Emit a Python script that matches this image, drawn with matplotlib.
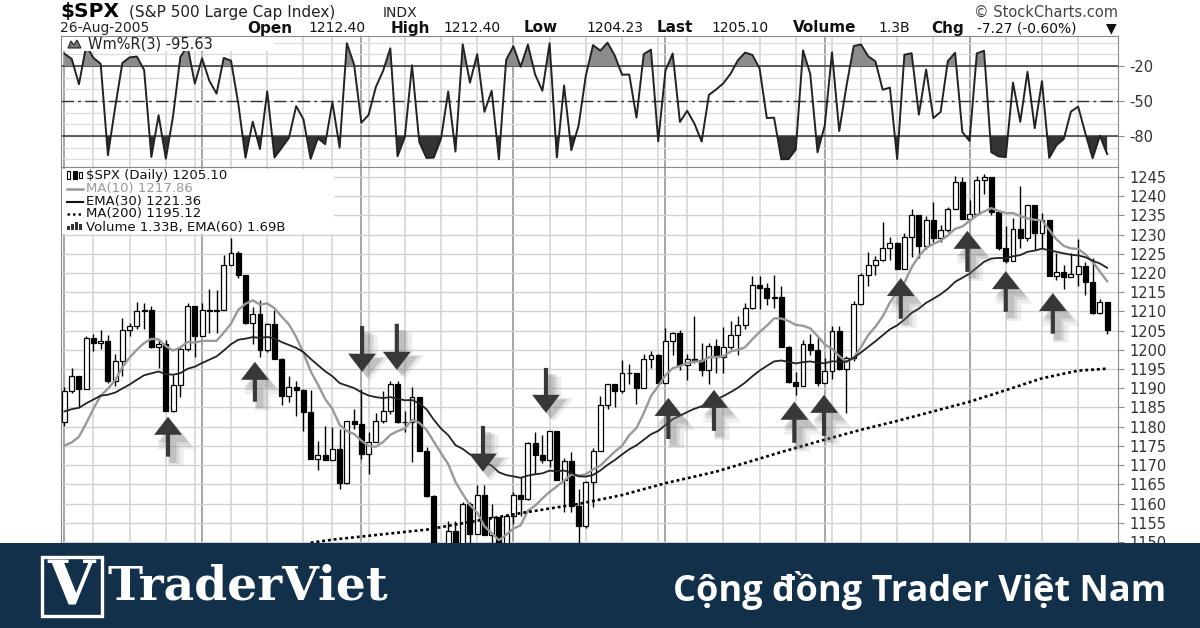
import matplotlib
matplotlib.use("Agg")
import matplotlib.pyplot as plt
from matplotlib.patches import Rectangle, Polygon
from matplotlib.lines import Line2D
from matplotlib.transforms import offset_copy
import numpy as np
import pandas as pd

# trading days on the chart, 2005
feb = [1, 2, 3, 4, 7, 8, 9, 10, 11, 14, 15, 16, 17, 18, 22, 23, 24, 25, 28]
mar = [1, 2, 3, 4, 7, 8, 9, 10, 11, 14, 15, 16, 17, 18, 21, 22, 23, 24, 28, 29, 30, 31]
apr = [1, 4, 5, 6, 7, 8, 11, 12, 13, 14, 15, 18, 19, 20, 21, 22, 25, 26, 27, 28, 29]
may = [2, 3, 4, 5, 6, 9, 10, 11, 12, 13, 16, 17, 18, 19, 20, 23, 24, 25, 26, 27, 31]
jun = [1, 2, 3, 6, 7, 8, 9, 10, 13, 14, 15, 16, 17, 20, 21, 22, 23, 24, 27, 28, 29, 30]
jul = [1, 5, 6, 7, 8, 11, 12, 13, 14, 15, 18, 19, 20, 21, 22, 25, 26, 27, 28, 29]
aug = [1, 2, 3, 4, 5, 8, 9, 10, 11, 12, 15, 16, 17, 18, 19, 22, 23, 24, 25, 26]

closes = [
    1189.41, 1193.19, 1189.89, 1203.03, 1201.72, 1202.30, 1191.99, 1197.01, 1205.30, 1206.14,
    1210.12, 1210.34, 1200.75, 1201.59, 1184.16, 1190.80, 1200.20, 1211.37, 1203.60,
    1210.41, 1210.08, 1210.47, 1222.12, 1225.31, 1219.43, 1207.01, 1209.25, 1200.08, 1206.83,
    1197.75, 1188.07, 1190.21, 1189.65, 1183.78, 1171.71, 1172.53, 1171.42, 1174.28, 1165.36,
    1181.41, 1180.59,
    1172.92, 1176.12, 1181.39, 1184.07, 1191.14, 1181.20, 1181.21, 1187.76, 1173.79, 1162.05,
    1142.62, 1145.98, 1152.78, 1137.50, 1159.95, 1152.12, 1162.10, 1151.83, 1156.38, 1143.22,
    1156.85,
    1162.16, 1161.17, 1175.65, 1172.63, 1171.35, 1178.84, 1166.22, 1171.11, 1159.36, 1154.05,
    1165.69, 1173.80, 1185.56, 1191.08, 1189.28, 1193.86, 1194.07, 1190.01, 1197.62, 1198.78,
    1191.50,
    1202.22, 1204.29, 1196.02, 1197.51, 1197.26, 1194.67, 1200.93, 1198.11, 1200.82, 1203.91,
    1206.58, 1210.96, 1216.96, 1216.10, 1213.61, 1213.88, 1200.73, 1191.57, 1190.69, 1201.57,
    1199.85, 1191.33,
    1194.44, 1204.99, 1194.94, 1197.87, 1211.86, 1219.44, 1222.21, 1223.29, 1226.50, 1227.92,
    1221.13, 1229.35, 1235.20, 1227.04, 1233.68, 1229.03, 1231.16, 1236.79, 1243.72, 1234.18,
    1235.35, 1244.12, 1245.04, 1235.86, 1226.42, 1223.13, 1231.38, 1229.13, 1237.81, 1230.39,
    1233.87, 1219.34, 1220.24, 1219.02, 1219.71, 1221.73, 1217.59, 1209.59, 1212.37, 1205.10,
]

opens = [
    1181.27, 1189.41, 1193.19, 1189.89, 1203.03, 1201.72, 1202.30, 1191.99, 1197.01, 1205.30,
    1206.14, 1210.12, 1210.34, 1200.75, 1201.59, 1184.16, 1190.80, 1200.20, 1211.37,
    1203.60, 1210.41, 1210.08, 1210.47, 1222.12, 1225.31, 1219.43, 1207.01, 1209.25, 1200.08,
    1206.83, 1197.75, 1188.07, 1190.21, 1189.65, 1183.78, 1171.71, 1172.53, 1171.42, 1174.28,
    1165.36, 1181.41,
    1180.59, 1172.92, 1176.12, 1181.39, 1184.07, 1191.14, 1181.20, 1181.21, 1187.76, 1173.79,
    1162.05, 1142.62, 1145.98, 1152.78, 1137.50, 1159.95, 1152.12, 1162.10, 1151.83, 1156.38,
    1143.22,
    1156.85, 1162.16, 1161.17, 1175.65, 1172.63, 1171.35, 1178.84, 1166.22, 1171.11, 1159.36,
    1154.05, 1165.69, 1173.80, 1185.56, 1191.08, 1189.28, 1193.86, 1194.07, 1190.01, 1197.62,
    1198.78,
    1191.50, 1202.22, 1204.29, 1196.02, 1197.51, 1197.26, 1194.67, 1200.93, 1198.11, 1200.82,
    1203.91, 1206.58, 1210.96, 1216.96, 1216.10, 1213.61, 1213.88, 1200.73, 1191.57, 1190.69,
    1201.57, 1199.85,
    1191.33, 1194.44, 1204.99, 1194.94, 1197.87, 1211.86, 1219.44, 1222.21, 1223.29, 1226.50,
    1227.92, 1221.13, 1229.35, 1235.20, 1227.04, 1233.68, 1229.03, 1231.16, 1236.79, 1243.72,
    1234.18, 1235.35, 1244.12, 1245.04, 1235.86, 1226.42, 1223.13, 1231.38, 1229.13, 1237.81,
    1230.39, 1233.87, 1219.34, 1220.24, 1219.02, 1219.71, 1221.73, 1217.59, 1209.59, 1212.40,
]

highs = [
    1190.4, 1195.3, 1193.2, 1203.5, 1204.2, 1205.1, 1203.8, 1198.8, 1208.4, 1206.9,
    1212.4, 1212.1, 1211.3, 1202.5, 1202.5, 1193.5, 1200.7, 1212.2, 1211.4,
    1212.3, 1215.8, 1215.7, 1224.8, 1229.1, 1225.7, 1219.4, 1211.2, 1213.0, 1206.9,
    1210.5, 1197.8, 1193.3, 1192.0, 1189.7, 1189.6, 1176.3, 1180.1, 1179.9, 1179.4,
    1181.5, 1184.5,
    1189.8, 1178.6, 1183.6, 1189.3, 1191.9, 1191.8, 1184.1, 1190.3, 1187.8, 1174.7,
    1162.1, 1148.9, 1155.4, 1155.5, 1160.3, 1160.4, 1164.8, 1164.8, 1159.9, 1156.4,
    1156.9,
    1162.9, 1166.9, 1176.0, 1178.6, 1177.8, 1178.9, 1178.8, 1171.8, 1173.4, 1163.8,
    1165.8, 1174.4, 1187.9, 1191.1, 1191.2, 1197.4, 1196.4, 1194.1, 1198.9, 1199.6,
    1198.8,
    1205.6, 1204.7, 1205.1, 1198.8, 1208.9, 1201.9, 1201.9, 1202.8, 1206.0, 1207.5,
    1208.8, 1212.1, 1219.1, 1219.1, 1217.5, 1219.6, 1216.5, 1201.0, 1194.3, 1202.5,
    1204.1, 1203.3,
    1197.9, 1206.3, 1206.1, 1198.5, 1212.7, 1220.0, 1225.5, 1224.5, 1233.2, 1229.5,
    1228.0, 1230.3, 1236.6, 1235.2, 1234.9, 1238.4, 1232.5, 1237.2, 1245.2, 1245.0,
    1239.1, 1245.2, 1245.9, 1245.0, 1235.9, 1232.3, 1234.3, 1242.7, 1237.8, 1237.8,
    1235.7, 1233.9, 1225.2, 1222.0, 1225.1, 1228.8, 1223.0, 1224.0, 1213.2, 1212.4,
]

lows = [
    1180.1, 1188.8, 1185.2, 1189.7, 1199.7, 1200.2, 1191.5, 1190.5, 1193.3, 1203.6,
    1205.5, 1205.5, 1200.5, 1195.2, 1184.0, 1183.9, 1187.7, 1199.7, 1198.2,
    1203.6, 1204.3, 1204.5, 1210.5, 1222.1, 1218.6, 1206.7, 1201.4, 1198.2, 1199.5,
    1197.5, 1185.6, 1186.3, 1182.8, 1178.8, 1171.6, 1168.7, 1171.4, 1171.4, 1163.7,
    1165.2, 1179.5,
    1171.6, 1167.7, 1176.1, 1181.0, 1183.4, 1180.9, 1178.7, 1170.9, 1173.6, 1161.7,
    1141.9, 1139.8, 1146.0, 1136.2, 1137.5, 1142.9, 1152.1, 1151.8, 1144.4, 1143.2,
    1139.2,
    1154.7, 1156.7, 1161.0, 1167.8, 1170.5, 1169.5, 1166.0, 1157.7, 1157.8, 1146.2,
    1153.6, 1159.1, 1173.8, 1184.5, 1185.2, 1188.8, 1191.0, 1185.9, 1190.0, 1195.3,
    1191.5,
    1191.5, 1198.7, 1194.7, 1192.1, 1196.7, 1193.3, 1191.1, 1194.0, 1194.1, 1200.2,
    1198.7, 1205.5, 1210.6, 1210.7, 1211.7, 1210.8, 1200.7, 1191.5, 1188.3, 1190.5,
    1198.7, 1190.5,
    1191.3, 1192.5, 1194.8, 1183.6, 1197.2, 1211.7, 1216.6, 1219.5, 1223.1, 1223.5,
    1221.1, 1221.1, 1224.1, 1223.9, 1226.2, 1228.2, 1228.2, 1230.8, 1236.6, 1234.0,
    1233.5, 1235.2, 1240.6, 1235.2, 1225.9, 1222.7, 1223.1, 1226.6, 1228.3, 1225.9,
    1226.5, 1219.1, 1218.1, 1215.9, 1219.0, 1216.5, 1214.4, 1209.4, 1209.4, 1204.2,
]

# closes just before the window, needed to start the 10-day average
jan_closes = [1184.63, 1175.41, 1167.87, 1163.75, 1168.41, 1174.07, 1174.55, 1171.36, 1181.27]
ema30_seed = 1183.6  # EMA(30) level at the left edge

# MA(200) dotted line (day index, value)
ma200_days = [34, 37, 50, 63, 71, 77, 83, 90, 99, 104, 110, 115, 125, 130, 135, 140, 144]
ma200_vals = [1149.8, 1150.6, 1153.2, 1157.5, 1159.9, 1162.2, 1165.3, 1168.3, 1173.4,
              1176.1, 1179.2, 1181.5, 1186.5, 1189.5, 1192.6, 1194.6, 1195.1]

# hand-drawn arrows (day index, tip price, tail price)
arrow_days = [14.3, 26.3, 41.1, 45.9, 57.8, 66.5, 83.4, 89.7, 100.8, 104.9, 115.5, 124.7, 130.0, 136.5]
arrow_tips = [1182.6, 1196.9, 1194.3, 1194.8, 1168.3, 1183.6, 1187.5, 1189.6, 1186.5, 1188.3,
              1218.7, 1231.0, 1220.5, 1214.8]
arrow_tails = [1172.2, 1186.5, 1206.2, 1206.8, 1180.2, 1195.3, 1176.8, 1178.9, 1175.8, 1177.6,
               1208.1, 1220.3, 1209.9, 1204.2]

price_ticks = list(range(1150, 1250, 5))
wr_ticks = [-20, -50, -80]

W, H = 1200, 628


def fx(v):
    return v / W


def fy(v):
    return 1 - v / H


months = [(2, feb), (3, mar), (4, apr), (5, may), (6, jun), (7, jul), (8, aug)]
dates = pd.to_datetime([f"2005-{m:02d}-{d:02d}" for m, days in months for d in days])
n = len(dates)
x = np.arange(n)
o, h, l, c = (np.array(a) for a in (opens, highs, lows, closes))

ma10 = pd.Series(jan_closes + closes).rolling(10).mean().to_numpy()[len(jan_closes):]
ema30 = pd.Series([ema30_seed] + closes).ewm(span=30, adjust=False).mean().to_numpy()[1:]
hh = pd.Series(highs).rolling(3, min_periods=1).max().to_numpy()
ll = pd.Series(lows).rolling(3, min_periods=1).min().to_numpy()
wr = -100 * (hh - c) / (hh - ll)

wk = dates.isocalendar().week.to_numpy()
week_starts = [i for i in range(n) if i == 0 or wk[i] != wk[i - 1]]
month_starts = [i for i in range(n) if i == 0 or dates[i].month != dates[i - 1].month]

fig = plt.figure(figsize=(12, 6.28), dpi=100)
fig.patch.set_facecolor("white")

ax_r = fig.add_axes([fx(61), fy(167), fx(1118) - fx(61), (167 - 36) / H])
ax = fig.add_axes([fx(61), 0, fx(1118) - fx(61), fy(167)])

for a in (ax_r, ax):
    a.set_xlim(-0.48, 145.5)
    for i in week_starts:
        a.axvline(i, color="#d2d2d2", lw=1.1, zorder=0)
    for i in month_starts:
        a.axvline(i, color="#a6a6a6", lw=1.4, zorder=0)
    a.set_xticks([])
    for s in a.spines.values():
        s.set_color("#8a8a8a")
    a.yaxis.tick_right()
    a.tick_params(axis="y", direction="out", length=4, color="#8a8a8a",
                  labelsize=10.5, labelcolor="#333333", pad=4)

# --- Williams %R panel
ax_r.set_ylim(-106.5, 5.7)
for v in range(-100, 1, 10):
    ax_r.axhline(v, color="#dcdcdc", lw=0.9, zorder=0)
ax_r.axhline(-20, color="#333333", lw=1.1, zorder=1)
ax_r.axhline(-80, color="#333333", lw=1.1, zorder=1)
ax_r.axhline(-50, color="#333333", lw=1.0, ls=(0, (9, 3, 2, 3)), zorder=1)
ax_r.fill_between(x, wr, -20, where=wr > -20, interpolate=True, color="#8c8c8c", lw=0, zorder=2)
ax_r.fill_between(x, wr, -80, where=wr < -80, interpolate=True, color="#333333", lw=0, zorder=2)
ax_r.plot(x, wr, color="#222222", lw=1.4, zorder=3)
ax_r.set_yticks(wr_ticks)
ax_r.set_yticklabels([str(t) for t in wr_ticks])

# --- price panel
ax.set_ylim(1127.6, 1247.6)
ax.set_yticks(price_ticks)
ax.set_yticklabels([str(t) for t in price_ticks])
for t in range(1130, 1250, 5):
    ax.axhline(t, color="#d2d2d2", lw=1.0, zorder=0)

up = c >= o
ax.vlines(x, l, h, color="black", lw=1.0, zorder=2)
ax.bar(x[up], (c - o)[up], bottom=o[up], width=0.68, facecolor="white",
       edgecolor="black", lw=0.9, zorder=3)
ax.bar(x[~up], (o - c)[~up], bottom=c[~up], width=0.68, facecolor="black",
       edgecolor="black", lw=0.9, zorder=3)

ax.plot(x, ma10, color="#999999", lw=1.7, zorder=4)
ax.plot(x, ema30, color="#222222", lw=1.3, zorder=4)
ax.plot(ma200_days, ma200_vals, color="black", lw=1.9, ls=(0, (1.1, 1.1)), zorder=4)

# arrows with soft shadow
head = "simple,head_length=13,head_width=20,tail_width=3"
for xa, tip, tail in zip(arrow_days, arrow_tips, arrow_tails):
    for dx, dy, grow, alpha in [(8, -9, 8, 0.12), (6, -7, 5, 0.16), (5, -6, 2, 0.22)]:
        tr = offset_copy(ax.transData, fig=fig, x=dx, y=dy, units="dots")
        sty = f"simple,head_length={13 + grow * 0.5},head_width={20 + grow},tail_width={3 + grow}"
        ax.annotate("", xy=(xa, tip), xytext=(xa, tail), xycoords=tr, textcoords=tr,
                    arrowprops=dict(arrowstyle=sty, color="#707070", alpha=alpha, lw=0,
                                    shrinkA=0, shrinkB=0, mutation_scale=1), zorder=5)
    ax.annotate("", xy=(xa, tip), xytext=(xa, tail),
                arrowprops=dict(arrowstyle=head, color="#383838", lw=0,
                                shrinkA=0, shrinkB=0, mutation_scale=1), zorder=6)


def px_rect(x0, y0, w, hgt, **kw):
    fig.add_artist(Rectangle((fx(x0), fy(y0 + hgt)), w / W, hgt / H,
                             transform=fig.transFigure, **kw))


def px_line(x0, x1, y, **kw):
    fig.add_artist(Line2D([fx(x0), fx(x1)], [fy(y), fy(y)], transform=fig.transFigure, **kw))


# --- header
fig.text(fx(60), fy(12), "$SPX", fontsize=14.5, weight="bold", va="center", parse_math=False)
fig.text(fx(129), fy(13), "(S&P 500 Large Cap Index)", fontsize=11, va="center", color="#222222")
fig.text(fx(383), fy(13), "INDX", fontsize=10, va="center", color="#222222")
fig.text(fx(1118), fy(12.5), "© StockCharts.com", fontsize=10.5, va="center", ha="right", color="#444444")
fig.text(fx(60), fy(28), "26-Aug-2005", fontsize=10, va="center", color="#222222")
stats = [("Open", "bold", 247), ("1212.40", "normal", 308), ("High", "bold", 391),
         ("1212.40", "normal", 443), ("Low", "bold", 524), ("1204.23", "normal", 586),
         ("Last", "bold", 657), ("1205.10", "normal", 711), ("Volume", "bold", 793),
         ("1.3B", "normal", 878), ("Chg", "bold", 931), ("-7.27 (-0.60%)", "normal", 977),
         ("▼", "normal", 1106)]
for s, wgt, xs in stats:
    fig.text(fx(xs), fy(28), s, fontsize=11 if wgt == "bold" else 10, weight=wgt,
             va="center", color="#111111")

# --- %R legend
px_rect(62, 37.5, 212, 13, facecolor="white", edgecolor="none", zorder=2)
fig.add_artist(Polygon([[fx(68), fy(48)], [fx(71), fy(41)], [fx(74), fy(45)], [fx(77), fy(40)],
                        [fx(81), fy(48)]], closed=True, transform=fig.transFigure,
                       facecolor="#777777", edgecolor="#222222", lw=0.8, zorder=3))
fig.text(fx(88), fy(44), "Wm%R(3) -95.63", fontsize=10.5, va="center", color="#222222", zorder=4)

# --- price legend
px_rect(62, 168.5, 272, 65, facecolor="white", edgecolor="none", zorder=2)
legend_rows = [("$SPX (Daily) 1205.10", "#111111", 175.5), ("MA(10) 1217.86", "#999999", 188.5),
               ("EMA(30) 1221.36", "#111111", 201.5), ("MA(200) 1195.12", "#111111", 214),
               ("Volume 1.33B, EMA(60) 1.69B", "#111111", 227)]
for s, col, yy in legend_rows:
    fig.text(fx(86), fy(yy), s, fontsize=9.5, va="center", color=col, zorder=4, parse_math=False)
px_rect(67, 171.5, 3, 7, facecolor="white", edgecolor="black", lw=0.8, zorder=3)
px_rect(73, 170.5, 3.5, 8, facecolor="black", edgecolor="black", lw=0.8, zorder=3)
px_rect(79, 171.5, 3, 6, facecolor="white", edgecolor="black", lw=0.8, zorder=3)
px_line(67, 83, 188.5, color="#999999", lw=1.8, zorder=3)
px_line(67, 83, 201.5, color="#111111", lw=1.5, zorder=3)
px_line(67, 83, 214, color="#111111", lw=1.8, ls=(0, (1, 1.2)), zorder=3)
for k, hb in enumerate([4, 6, 8, 6]):
    px_rect(67 + k * 4, 230.5 - hb, 3, hb, facecolor="#333333", edgecolor="none", zorder=3)

# --- TraderViet banner
px_rect(0, 543, 1200, 85, facecolor="#12304a", edgecolor="none", zorder=10)
px_rect(41.5, 556.5, 60, 59, facecolor="none", edgecolor="white", lw=2.4, zorder=11)
fig.text(fx(71.5), fy(587), "V", fontsize=44, family="DejaVu Serif", weight="bold",
         color="white", ha="center", va="center", zorder=12)
fig.text(fx(108), fy(587), "TraderViet", fontsize=34, family="DejaVu Serif", weight="bold",
         color="white", ha="left", va="center", zorder=12)
fig.text(fx(1166), fy(590), "Cộng đồng Trader Việt Nam", fontsize=26,
         family=["Open Sans", "DejaVu Sans"], weight="bold", color="white",
         ha="right", va="center", zorder=12)

fig.savefig("out.png", dpi=100, facecolor="white")
